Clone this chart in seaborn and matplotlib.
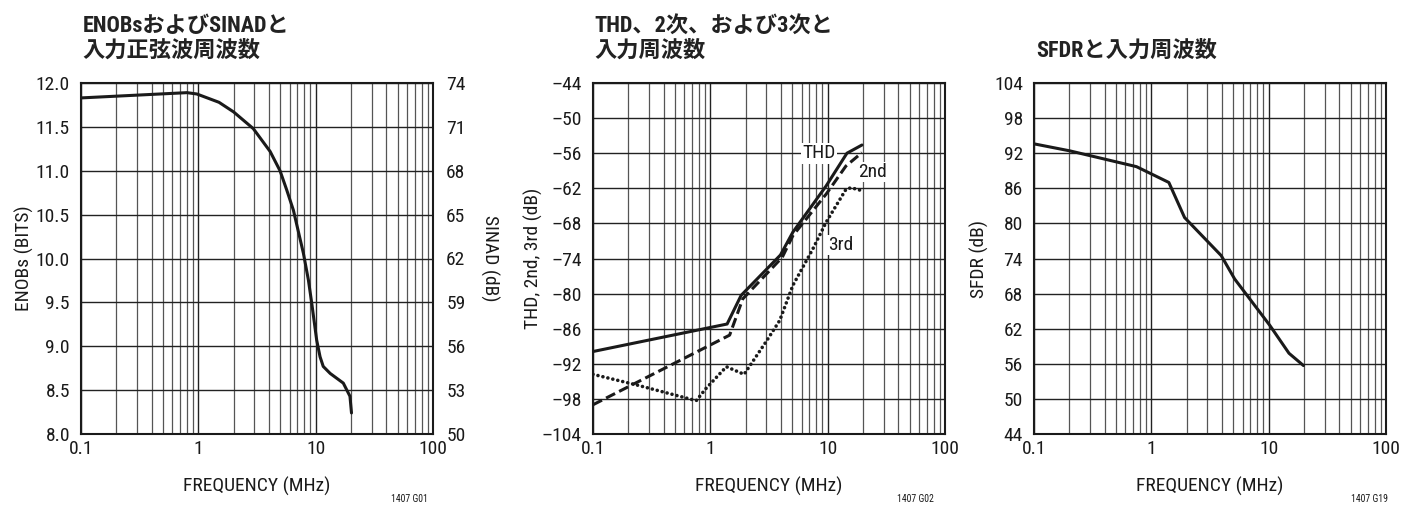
import matplotlib
matplotlib.use("Agg")
import matplotlib.pyplot as plt
import pandas as pd
import seaborn as sns
from matplotlib.ticker import FixedLocator, LogLocator, NullFormatter

# ---------------- data ----------------
enob_freq = [0.1, 0.2, 0.4, 0.8, 0.97, 1.5, 2.0, 2.94, 4.09, 4.97, 5.67, 6.46,
             7.86, 8.67, 9.26, 10.2, 10.9, 11.6, 13.3, 17.2, 19.6, 20.2]
enob_bits = [11.83, 11.85, 11.87, 11.89, 11.875, 11.78, 11.67, 11.48, 11.22, 11.0,
             10.78, 10.55, 10.06, 9.755, 9.49, 9.07, 8.88, 8.77, 8.69, 8.58, 8.43, 8.24]

thd_freq = [0.1, 1.39, 1.83, 3.96, 5.05, 9.7, 14.6, 19.6]
thd_db = [-89.9, -85.2, -80.3, -73.4, -69.5, -61.6, -56.0, -54.6]

h2_freq = [0.1, 1.46, 1.89, 4.1, 5.05, 9.7, 14.3, 19.6]
h2_db = [-99.0, -87.1, -80.9, -73.8, -70.1, -63.0, -58.2, -55.9]

h3_freq = [0.1, 0.234, 0.758, 0.92, 1.37, 1.94, 2.99, 3.9, 5.05, 7.46, 9.7, 14.3, 15.8, 19.6]
h3_db = [-93.8, -95.6, -98.3, -96.2, -92.5, -93.8, -88.2, -84.6, -78.6, -72.4, -67.8, -62.2, -61.9, -62.4]

sfdr_freq = [0.1, 0.202, 0.747, 1.41, 1.92, 3.94, 5.13, 10.2, 14.9, 19.8]
sfdr_db = [93.6, 92.4, 89.7, 87.0, 81.0, 74.5, 70.5, 62.6, 57.8, 55.7]

x_ticks = [0.1, 1, 10, 100]
x_tick_labels = ["0.1", "1", "10", "100"]
enob_ticks = [8.0, 8.5, 9.0, 9.5, 10.0, 10.5, 11.0, 11.5, 12.0]
sinad_ticks = [50, 53, 56, 59, 62, 65, 68, 71, 74]
thd_ticks = [-104, -98, -92, -86, -80, -74, -68, -62, -56, -50, -44]
sfdr_ticks = [44, 50, 56, 62, 68, 74, 80, 86, 92, 98, 104]

titles = ["ENOBsおよびSINADと\n入力正弦波周波数",
          "THD、2次、および3次と\n入力周波数",
          "SFDRと入力周波数"]
y_labels = ["ENOBs (BITS)", "THD, 2nd, 3rd (dB)", "SFDR (dB)"]
sinad_label = "SINAD (dB)"
x_label = "FREQUENCY (MHz)"
codes = ["1407 G01", "1407 G02", "1407 G19"]
curve_labels = ["THD", "2nd", "3rd"]

# ---------------- style ----------------
sns.set_theme(style="white")
FAM = ["Roboto Condensed", "Liberation Sans Narrow", "DejaVu Sans", "Noto Sans CJK JP"]
TFAM = ["Roboto Condensed", "Liberation Sans Narrow", "Noto Sans CJK JP", "DejaVu Sans"]
plt.rcParams["font.family"] = FAM
plt.rcParams["font.stretch"] = "condensed"
plt.rcParams["axes.unicode_minus"] = False

INK = "#1a1a1a"
LW = 2.2
FS = 14

fig = plt.figure(figsize=(14.15, 5.13), dpi=100)
W, H = 1415, 513
lefts = [81, 593, 1034]
ax_w, ax_h = 352, 351
top_px = 83
axes = [fig.add_axes([l / W, 1 - (top_px + ax_h) / H, ax_w / W, ax_h / H]) for l in lefts]


def style_axes(ax, yticks, ylabels, ylim):
    ax.set_xscale("log")
    ax.set_xlim(0.1, 100)
    ax.set_ylim(*ylim)
    ax.xaxis.set_major_locator(FixedLocator(x_ticks))
    ax.set_xticklabels(x_tick_labels)
    ax.xaxis.set_minor_locator(LogLocator(base=10, subs=range(2, 10)))
    ax.xaxis.set_minor_formatter(NullFormatter())
    ax.set_yticks(yticks)
    ax.set_yticklabels(ylabels)
    ax.grid(which="major", axis="both", color="#222222", linewidth=1.0)
    ax.grid(which="minor", axis="x", color="#555555", linewidth=0.9)
    ax.tick_params(which="both", length=0, labelsize=FS, colors=INK)
    ax.tick_params(axis="x", pad=4.5)
    ax.tick_params(axis="y", pad=8)
    for s in ax.spines.values():
        s.set_color(INK)
        s.set_linewidth(1.5)
        s.set_visible(True)
    ax.set_axisbelow(True)
    ax.set_xlabel(x_label, fontsize=FS, color=INK, va="center")
    ax.xaxis.set_label_coords(0.5, -0.148)


# ---- panel 1 ----
ax = axes[0]
df1 = pd.DataFrame({"f": enob_freq, "v": enob_bits})
sns.lineplot(data=df1, x="f", y="v", ax=ax, color=INK, linewidth=LW, sort=False)
style_axes(ax, enob_ticks, [f"{v:.1f}" for v in enob_ticks], (8.0, 12.0))
ax.set_ylabel(y_labels[0], fontsize=FS, color=INK, va="center")
ax.yaxis.set_label_coords(-0.162, 0.5)
ax2 = ax.twinx()
ax2.set_ylim(50, 74)
ax2.set_yticks(sinad_ticks)
ax2.set_yticklabels([str(v) for v in sinad_ticks])
ax2.grid(False)
ax2.tick_params(length=0, labelsize=FS, colors=INK, pad=9.5)
ax2.set_ylabel(sinad_label, rotation=270, fontsize=FS, color=INK, va="center")
ax2.yaxis.set_label_coords(1.162, 0.5)
for s in ax2.spines.values():
    s.set_visible(False)

# ---- panel 2 ----
ax = axes[1]
df_thd = pd.DataFrame({"f": thd_freq, "v": thd_db})
df_h2 = pd.DataFrame({"f": h2_freq, "v": h2_db})
df_h3 = pd.DataFrame({"f": h3_freq, "v": h3_db})
sns.lineplot(data=df_thd, x="f", y="v", ax=ax, color=INK, linewidth=LW, sort=False)
sns.lineplot(data=df_h2, x="f", y="v", ax=ax, color=INK, linewidth=LW, sort=False,
             linestyle=(0, (3.3, 1.5)))
sns.lineplot(data=df_h3, x="f", y="v", ax=ax, color=INK, linewidth=2.6, sort=False,
             linestyle=(0, (0.01, 1.4)), dash_capstyle="round")
style_axes(ax, thd_ticks, [str(v).replace("-", "\u2013") for v in thd_ticks], (-104, -44))
ax.set_ylabel(y_labels[1], fontsize=FS, color=INK, va="center")
ax.yaxis.set_label_coords(-0.170, 0.5)
bb = dict(facecolor="white", edgecolor="none", pad=1.0)
ax.text(8.5, -56.0, curve_labels[0], fontsize=FS, ha="center", va="center", color=INK, bbox=bb)
ax.text(24.2, -59.2, curve_labels[1], fontsize=FS, ha="center", va="center", color=INK, bbox=bb)
ax.text(13.0, -71.7, curve_labels[2], fontsize=FS, ha="center", va="center", color=INK, bbox=bb)

# ---- panel 3 ----
ax = axes[2]
df3 = pd.DataFrame({"f": sfdr_freq, "v": sfdr_db})
sns.lineplot(data=df3, x="f", y="v", ax=ax, color=INK, linewidth=LW, sort=False)
style_axes(ax, sfdr_ticks, [str(v) for v in sfdr_ticks], (44, 104))
ax.set_ylabel(y_labels[2], fontsize=FS, color=INK, va="center")
ax.yaxis.set_label_coords(-0.156, 0.5)

# ---- titles and codes ----
for ax, t in zip(axes, titles):
    ax.text(0.005, 1.062, t, transform=ax.transAxes, ha="left", va="bottom",
            fontsize=16, fontweight="bold", family=TFAM, color="#222222",
            linespacing=1.12)

code_x = [428, 934, 1388]
for cx, c in zip(code_x, codes):
    fig.text(cx / W, 1 - 499 / H, c, ha="right", va="center", fontsize=7, color=INK)

fig.savefig("out.png", dpi=100, facecolor="white")
